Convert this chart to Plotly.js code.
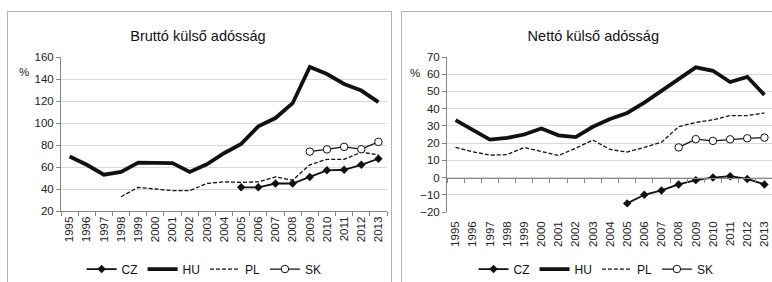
<!DOCTYPE html>
<html><head><meta charset="utf-8">
<script src="https://cdn.plot.ly/plotly-3.0.1.min.js"></script>
<style>
html,body{margin:0;padding:0;width:772px;height:282px;overflow:hidden;background:#fff;}
.panel{position:absolute;top:11px;height:300px;border:1px solid #b4b4b4;border-bottom:none;background:#fff;}
#p1{left:7px;width:383px;}
#p2{left:401px;width:392px;}
.chart{position:absolute;left:0;top:0;}
</style></head>
<body>
<div class="panel" id="p1"><div class="chart" id="c1"></div></div>
<div class="panel" id="p2"><div class="chart" id="c2"></div></div>
<script>
const years = ['1995','1996','1997','1998','1999','2000','2001','2002','2003','2004','2005','2006','2007','2008','2009','2010','2011','2012','2013'];
const seriesNames = ['CZ','HU','PL','SK'];

// Bruttó külső adósság (%)
const grossCZ = [null,null,null,null,null,null,null,null,null,null,41.5,41.5,45,45,51,57,57.5,62,67.5];
const grossHU = [69.5,62,53,55.5,64,64,63.5,55.5,62.5,72.5,81,97,104.5,118,151,144.5,135.5,129.5,119];
const grossPL = [null,null,null,33,41.5,40,38.5,38.5,45,46.5,46,46.5,51,48,62,67,67,73.5,71];
const grossSK = [null,null,null,null,null,null,null,null,null,null,null,null,null,null,74,76,78.3,76.2,82.8];

// Nettó külső adósság (%)
const netCZ = [null,null,null,null,null,null,null,null,null,null,-15,-10,-7.5,-4,-1.5,0,0.8,-0.8,-4];
const netHU = [33.4,28,22,23,25,28.5,24.5,23.5,29.5,34,37.5,43.5,50.5,57.5,64,62,55.5,58.5,48];
const netPL = [17.5,15,13,13.3,17.5,15,12.8,17,21.8,16.3,14.8,17.5,20.5,29.5,32,33.5,36,36,37.5];
const netSK = [null,null,null,null,null,null,null,null,null,null,null,null,null,17.5,22.3,21.3,22.2,22.8,23.2];

const titles = ['Bruttó külső adósság','Nettó külső adósság'];
const yUnit = '%';
const grossTicks = [20,40,60,80,100,120,140,160];
const netTicks = [-20,-10,0,10,20,30,40,50,60,70];

const FONT = 'Liberation Sans, Arial, sans-serif';
const AX = '#868686';
const GRID = '#d9d9d9';

function styles(name){
  if(name==='CZ') return {line:{color:'#111',width:1.8},mode:'lines+markers',marker:{symbol:'diamond',size:6.5,color:'#111'}};
  if(name==='HU') return {line:{color:'#111',width:3.8},mode:'lines'};
  if(name==='PL') return {line:{color:'#111',width:1.3,dash:'4px,2px'},mode:'lines'};
  return {line:{color:'#111',width:1.3},mode:'lines+markers',marker:{symbol:'circle',size:7.5,color:'#fff',line:{color:'#111',width:1}}};
}

function mkTraces(vals, czAxis){
  return seriesNames.map((n,i)=>Object.assign({
    type:'scatter', name:n, x:years, y:vals[i], connectgaps:false,
    xaxis:(n==='CZ'&&czAxis)?czAxis:'x', yaxis:'y', hoverinfo:'skip'
  }, styles(n)));
}

const baseX = {type:'category',categoryorder:'array',categoryarray:years,range:[-0.5,18.5],
  tickangle:-90,tickfont:{size:11.5,color:'#222'},showgrid:false,zeroline:false,fixedrange:true};

// Chart 1
const layout1 = {
  width:383,height:280,margin:{l:53,r:4,t:45,b:81},
  paper_bgcolor:'rgba(0,0,0,0)',plot_bgcolor:'#fff',
  font:{family:FONT,color:'#222'},
  title:{text:titles[0],font:{size:14.5,color:'#111'},xref:'container',x:0.496,xanchor:'center',yref:'container',y:0.914,yanchor:'middle'},
  xaxis:Object.assign({},baseX,{showline:true,linecolor:AX,linewidth:1,ticks:'outside',ticklen:4,tickcolor:AX,tickson:'boundaries'}),
  yaxis:{range:[20,160],tickvals:grossTicks,showline:true,linecolor:AX,ticks:'outside',ticklen:4,tickcolor:AX,
    gridcolor:GRID,gridwidth:1,zeroline:false,tickfont:{size:11.5,color:'#222'},fixedrange:true},
  showlegend:true,
  legend:{orientation:'h',xref:'container',x:0.512,xanchor:'center',yref:'container',y:0.082,yanchor:'middle',
    font:{size:12,color:'#111'},itemwidth:30,bgcolor:'rgba(0,0,0,0)',tracegroupgap:0},
  annotations:[{text:yUnit,xref:'paper',yref:'paper',x:-0.1135,y:0.9026,xanchor:'center',yanchor:'middle',showarrow:false,font:{size:11.5,color:'#222'}}]
};
Plotly.newPlot('c1', mkTraces([grossCZ,grossHU,grossPL,grossSK]), layout1, {staticPlot:true,displayModeBar:false});

// Chart 2
const layout2 = {
  width:392,height:280,margin:{l:45,r:21,t:45,b:80},
  paper_bgcolor:'rgba(0,0,0,0)',plot_bgcolor:'#fff',
  font:{family:FONT,color:'#222'},
  title:{text:titles[1],font:{size:14.5,color:'#111'},xref:'container',x:0.488,xanchor:'center',yref:'container',y:0.914,yanchor:'middle'},
  xaxis:Object.assign({},baseX,{showline:false,ticks:'',ticklabelstandoff:6}),
  xaxis2:Object.assign({},baseX,{overlaying:'x',anchor:'free',position:20/90,showline:true,linecolor:AX,linewidth:1,
    ticks:'outside',ticklen:4,tickcolor:AX,tickson:'boundaries',showticklabels:false}),
  yaxis:{range:[-20,70],tickvals:netTicks,showline:true,linecolor:AX,ticks:'outside',ticklen:4,tickcolor:AX,
    gridcolor:GRID,gridwidth:1,zeroline:false,tickfont:{size:11.5,color:'#222'},fixedrange:true},
  showlegend:true,
  legend:{orientation:'h',xref:'container',x:0.495,xanchor:'center',yref:'container',y:0.082,yanchor:'middle',
    font:{size:12,color:'#111'},itemwidth:30,bgcolor:'rgba(0,0,0,0)',tracegroupgap:0},
  annotations:[{text:yUnit,xref:'paper',yref:'paper',x:-0.098,y:0.897,xanchor:'center',yanchor:'middle',showarrow:false,font:{size:11.5,color:'#222'}}]
};
Plotly.newPlot('c2', mkTraces([netCZ,netHU,netPL,netSK],'x2'), layout2, {staticPlot:true,displayModeBar:false});
</script>
</body></html>
